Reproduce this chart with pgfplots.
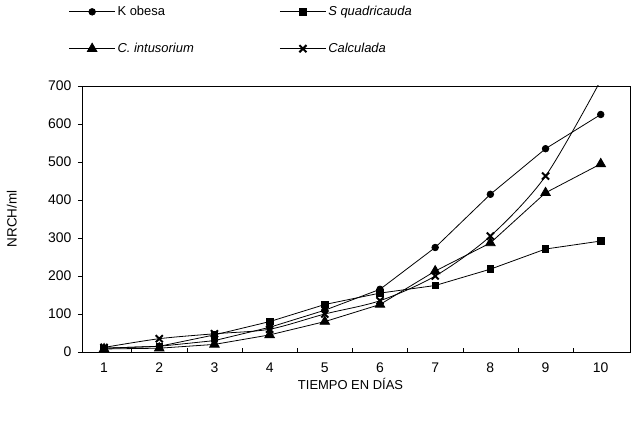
\documentclass[border=0pt]{standalone}
\usepackage{pgfplots}
\pgfplotsset{compat=1.18}
\usepackage{fontspec}
\setmainfont{Liberation Sans}
\setsansfont{Liberation Sans}
\begin{document}
\begin{tikzpicture}
\path[use as bounding box] (-82bp,-69bp) rectangle (550bp,352bp);
\begin{axis}[
  at={(0,0)}, anchor=south west,
  scale only axis, width=548bp, height=266bp,
  xmin=0.6, xmax=10.53, ymin=0, ymax=700,
  xtick={1,...,10},
  major x tick style={draw=none},
  minor xtick={1.5,2.5,...,9.5},
  minor x tick style={black, thin},
  minor tick length=4bp,
  ytick={0,100,...,700},
  major tick length=4bp,
  y tick style={black, thin},
  ytick pos=left, xtick pos=bottom,
  tick align=outside,
  minor x tick style={/pgfplots/tick align=inside},
  axis line style={line width=0.9pt},
  /pgf/number format/assume math mode=true,
  ticklabel style={font=\fontsize{14}{16}\selectfont},
  xticklabel style={yshift=-3bp},
  yticklabel style={xshift=-3bp},
  xlabel={TIEMPO EN DÍAS},
  ylabel={NRCH/ml},
  xlabel style={font=\fontsize{13}{15}\selectfont, at={(axis description cs:0.49,-0.12)}, anchor=center},
  ylabel style={font=\fontsize{13.5}{15}\selectfont, at={(axis description cs:-0.128,0.5)}, anchor=center},
  legend columns=2,
  legend style={draw=none, fill=none, at={(axis description cs:-0.03,1.315)}, anchor=north west,
    font=\fontsize{13}{15}\selectfont, row sep=22bp, cells={anchor=west}},
  legend image code/.code={\draw[mark repeat=2,mark phase=2] plot coordinates {(0bp,0bp)(23bp,0bp)(46bp,0bp)};},
  every axis plot/.append style={black, line width=0.8pt},
]
\addplot[mark=*, mark size=3.3pt] coordinates {(1,10)(2,15)(3,30)(4,65)(5,110)(6,165)(7,275)(8,415)(9,535)(10,625)};
\addlegendentry{\makebox[160bp][l]{K obesa}}
\addplot[mark=square*, mark size=3.3pt] coordinates {(1,10)(2,15)(3,45)(4,80)(5,125)(6,155)(7,175)(8,218)(9,271)(10,292)};
\addlegendentry{\textit{S quadricauda}}
\addplot[mark=triangle*, mark size=5.5pt] coordinates {(1,8)(2,10)(3,20)(4,45)(5,80)(6,125)(7,213)(8,287)(9,419)(10,495)};
\addlegendentry{\makebox[160bp][l]{\textit{C. intusorium}}}
\addplot[smooth, mark=x, mark size=5pt, mark options={line width=2pt}] coordinates {(1,12)(2,35)(3,48)(4,60)(5,100)(6,135)(7,200)(8,305)(9,463)(10,715)};
\addlegendentry{\textit{Calculada}}
\end{axis}
\end{tikzpicture}
\end{document}
